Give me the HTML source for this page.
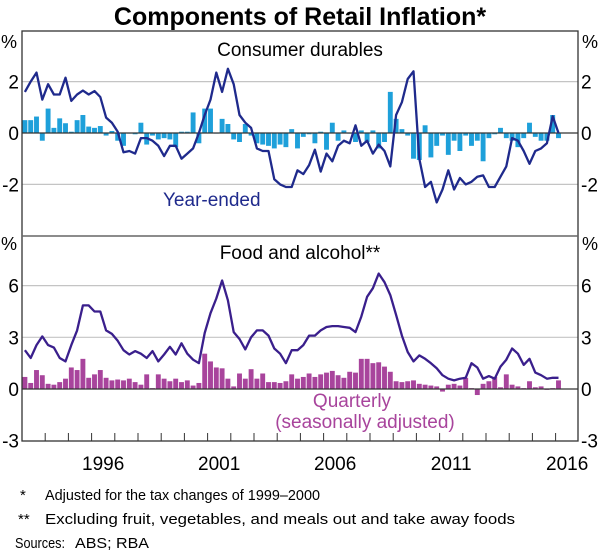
<!DOCTYPE html>
<html><head><meta charset="utf-8"><style>
html,body{margin:0;padding:0;background:#fff;}
svg{display:block;font-family:"Liberation Sans",Arial,sans-serif;}
</style></head><body>
<svg id="chart" width="600" height="554" viewBox="0 0 600 554">
<text x="300" y="25" text-anchor="middle" font-size="25" font-weight="bold" fill="#000">Components of Retail Inflation*</text>
<g id="grid"></g>
<g id="marks"></g>
<g id="frame"></g>
<g id="labels"></g>
<text x="300" y="56" text-anchor="middle" font-size="19" fill="#000">Consumer durables</text>
<text x="300" y="259" text-anchor="middle" font-size="19" fill="#000">Food and alcohol**</text>
<text x="163" y="206" font-size="19" fill="#1f2a8c">Year-ended</text>
<text x="352" y="407" text-anchor="middle" font-size="19" fill="#a8449c">Quarterly</text>
<text x="365" y="428" text-anchor="middle" font-size="19" fill="#a8449c">(seasonally adjusted)</text>
<text x="20" y="500" font-size="15" fill="#000">*</text>
<text x="45" y="500" font-size="15" fill="#000" textLength="275" lengthAdjust="spacingAndGlyphs">Adjusted for the tax changes of 1999–2000</text>
<text x="18" y="524" font-size="15" fill="#000">**</text>
<text x="45" y="524" font-size="15" fill="#000" textLength="470" lengthAdjust="spacingAndGlyphs">Excluding fruit, vegetables, and meals out and take away foods</text>
<text x="15" y="548" font-size="15" fill="#000" textLength="50" lengthAdjust="spacingAndGlyphs">Sources:</text>
<text x="75" y="548" font-size="15" fill="#000" textLength="74" lengthAdjust="spacingAndGlyphs">ABS; RBA</text>
</svg>
<script>
const startYear = 1993.125;
const durYearEnded = [1.6,2.0,2.35,1.3,1.9,1.5,1.5,2.15,1.25,1.5,1.65,1.5,1.63,1.4,0.6,0.4,0.05,-0.75,-0.7,-0.8,-0.2,-0.2,-0.3,-0.5,-0.9,-0.5,-0.5,-1.0,-0.8,-0.6,0.0,0.7,1.3,2.35,1.6,2.5,1.9,0.7,0.4,0.2,-0.6,-0.7,-0.7,-1.8,-2.0,-2.1,-2.1,-1.45,-1.6,-1.25,-0.65,-1.5,-0.8,-1.1,-0.5,-0.3,-0.4,0.3,-0.5,-0.3,-0.8,-0.45,-0.7,-1.3,0.7,1.2,2.1,2.4,-1.0,-2.1,-1.9,-2.7,-2.2,-1.45,-2.2,-1.75,-2.0,-1.9,-1.7,-1.65,-2.1,-2.1,-1.7,-1.3,-0.2,-0.3,-0.7,-1.2,-0.7,-0.6,-0.4,0.65,0.0];
const durQuarterly = [0.5,0.5,0.64,-0.3,0.95,0.2,0.57,0.38,0.05,0.5,0.7,0.25,0.2,0.27,-0.1,0.08,-0.3,-0.5,0.0,-0.05,0.4,-0.45,-0.1,-0.25,-0.2,-0.25,-0.55,0.05,0.05,0.8,-0.4,0.95,0.95,0.0,0.55,0.35,-0.25,-0.35,0.35,-0.1,-0.4,-0.45,-0.5,-0.6,-0.45,-0.55,0.15,-0.6,-0.15,-0.05,-0.4,0.05,-0.65,0.4,-0.3,0.1,0.0,-0.35,0.1,-0.35,0.1,-0.6,-0.35,1.6,0.55,0.15,-0.1,-1.0,-1.05,0.3,-0.95,-0.5,-0.1,-0.85,-0.3,-0.7,-0.1,-0.5,-0.3,-1.1,-0.2,-0.05,0.2,-0.2,-0.3,-0.55,-0.2,0.4,-0.15,-0.3,-0.3,0.7,-0.2];
const foodYearEnded = [2.25,1.8,2.55,3.05,2.55,2.4,1.8,1.6,2.55,3.4,4.85,4.85,4.5,4.5,3.4,3.2,2.8,2.25,2.0,2.2,2.05,1.8,2.2,1.6,2.0,2.45,2.0,2.65,2.05,1.7,1.5,3.25,4.4,5.25,6.3,5.15,3.3,2.9,2.3,3.0,3.4,3.4,3.1,2.35,2.05,1.5,2.25,2.25,2.55,3.1,3.1,3.4,3.6,3.65,3.65,3.6,3.55,3.3,4.2,5.35,5.85,6.7,6.2,5.45,4.3,3.1,2.15,1.6,1.95,1.75,1.5,1.2,0.8,0.6,0.5,0.6,0.65,1.5,1.25,0.6,0.75,0.6,1.3,1.7,2.35,2.05,1.4,1.75,0.95,0.8,0.6,0.65,0.65];
const foodQuarterly = [0.7,0.35,1.1,0.8,0.3,0.25,0.4,0.6,1.25,1.1,1.75,0.65,0.85,1.1,0.65,0.5,0.55,0.5,0.6,0.4,0.25,0.85,0.05,0.85,0.6,0.45,0.6,0.4,0.5,0.2,0.35,2.05,1.6,1.25,1.2,0.6,0.15,0.9,0.6,1.15,0.6,0.9,0.4,0.4,0.35,0.45,0.85,0.6,0.7,0.9,0.7,0.85,0.95,1.05,0.8,0.65,1.0,0.95,1.75,1.75,1.5,1.55,1.3,1.0,0.45,0.4,0.45,0.5,0.3,0.25,0.2,0.15,-0.15,0.25,0.3,0.2,0.65,0.05,-0.35,0.3,0.45,0.7,0.1,0.85,0.25,0.15,0.05,0.45,0.1,0.15,-0.05,0.05,0.5];
const xTickYears = [1993,1994,1995,1996,1997,1998,1999,2000,2001,2002,2003,2004,2005,2006,2007,2008,2009,2010,2011,2012,2013,2014,2015,2016];
const xLabelYears = [1996,2001,2006,2011,2016];
const topTicks = [-2,0,2];
const botTicks = [-3,0,3,6];

const NS = "http://www.w3.org/2000/svg";
const L = 22, R = 578;
const xs = y => L + (y - 1993) * 23.2;
const yTop = v => 133 - v * 25.7;
const yBot = v => 389 - v * 17.23;
function mk(tag, attrs, parent) {
  const e = document.createElementNS(NS, tag);
  for (const k in attrs) e.setAttribute(k, attrs[k]);
  parent.appendChild(e);
  return e;
}
const grid = document.getElementById('grid');
const marks = document.getElementById('marks');
const frame = document.getElementById('frame');
const labels = document.getElementById('labels');

topTicks.forEach(t => {
  if (t !== 0) {
    const g = mk('line', {x1: L, x2: R, y1: yTop(t), y2: yTop(t), stroke: '#c4c4c4', 'stroke-width': 1.2}, grid);
    
    
  }
  const a = mk('text', {x: 19, y: yTop(t) + 7, 'text-anchor': 'end', 'font-size': 19}, labels);
  a.textContent = t;
  
  
  const b = mk('text', {x: 581, y: yTop(t) + 7, 'font-size': 19}, labels);
  b.textContent = t;
  
  
});
botTicks.forEach(t => {
  if (t > 0) {
    const g = mk('line', {x1: L, x2: R, y1: yBot(t), y2: yBot(t), stroke: '#c4c4c4', 'stroke-width': 1.2}, grid);
    
    
  }
  const a = mk('text', {x: 19, y: yBot(t) + 7, 'text-anchor': 'end', 'font-size': 19}, labels);
  a.textContent = t;
  
  
  const b = mk('text', {x: 581, y: yBot(t) + 7, 'font-size': 19}, labels);
  b.textContent = t;
  
  
});
[[1, 48], [582, 48], [1, 250], [582, 250]].forEach(p => {
  const e = mk('text', {x: p[0], y: p[1], 'font-size': 18}, labels);
  e.textContent = '%';
  
  
});

const bw = 4.9;
durQuarterly.forEach((v, i) => {
  const x = xs(startYear + i * 0.25);
  const y0 = yTop(0), y1 = yTop(v);
  const r = mk('rect', {x: x - bw / 2, y: Math.min(y0, y1), width: bw, height: Math.max(Math.abs(y1 - y0), 0.6), fill: '#1ea0da'}, marks);
  
  
});
foodQuarterly.forEach((v, i) => {
  const x = xs(startYear + i * 0.25);
  const y0 = yBot(0), y1 = yBot(v);
  const r = mk('rect', {x: x - bw / 2, y: Math.min(y0, y1), width: bw, height: Math.max(Math.abs(y1 - y0), 0.6), fill: '#a8449c'}, marks);
  
  
});
[yTop(0), yBot(0)].forEach(y => {
  const z = mk('line', {x1: L, x2: R, y1: y, y2: y, stroke: '#333', 'stroke-width': 1.2}, marks);
  
  
});
const p1 = mk('polyline', {points: durYearEnded.map((v, i) => xs(startYear + i * 0.25).toFixed(1) + ',' + yTop(v).toFixed(1)).join(' '), fill: 'none', stroke: '#1f2a8c', 'stroke-width': 2.3, 'stroke-linejoin': 'round'}, marks);


const p2 = mk('polyline', {points: foodYearEnded.map((v, i) => xs(startYear + i * 0.25).toFixed(1) + ',' + yBot(v).toFixed(1)).join(' '), fill: 'none', stroke: '#3a1f8c', 'stroke-width': 2.3, 'stroke-linejoin': 'round'}, marks);



const f1 = mk('rect', {x: L, y: 31, width: R - L, height: 410, fill: 'none', stroke: '#333', 'stroke-width': 1.3}, frame);


const div = mk('line', {x1: L, x2: R, y1: 236, y2: 236, stroke: '#666', 'stroke-width': 1.5}, frame);


xTickYears.forEach(yr => {
  const x = xs(yr);
  if (x <= L + 1) return;
  const t = mk('line', {x1: x, x2: x, y1: 441, y2: 433, stroke: '#333', 'stroke-width': 1}, frame);
  
  
});
xLabelYears.forEach(yr => {
  const e = mk('text', {x: xs(yr + 0.5), y: 470, 'text-anchor': 'middle', 'font-size': 19}, labels);
  e.textContent = yr;
  
  
});
</script>
</body></html>
